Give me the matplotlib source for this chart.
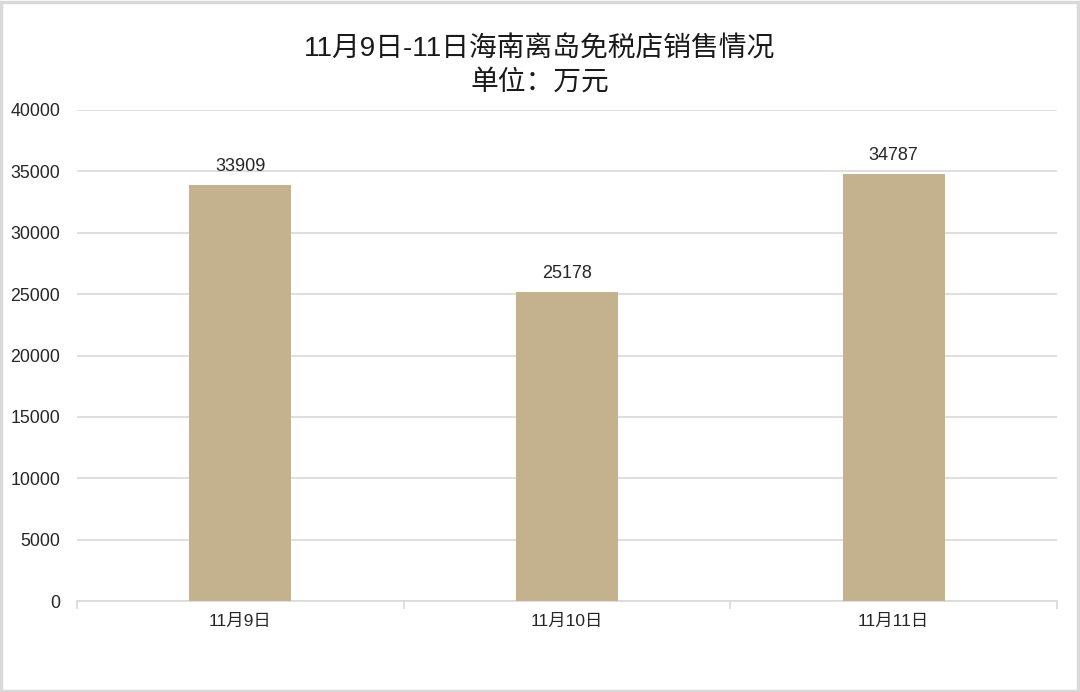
import matplotlib
matplotlib.use("Agg")
import matplotlib.pyplot as plt
from matplotlib.patches import Rectangle

categories = ["11月9日", "11月10日", "11月11日"]
values = [33909, 25178, 34787]
yticks = [0, 5000, 10000, 15000, 20000, 25000, 30000, 35000, 40000]
title = "11月9日-11日海南离岛免税店销售情况\n单位：万元"

plt.rcParams['font.family'] = ['Liberation Sans', 'Noto Sans CJK SC', 'DejaVu Sans']

fig = plt.figure(figsize=(10.8, 6.92), dpi=100)
ax = fig.add_axes([77/1080, 1-601/692, 980/1080, 491/692])

x = list(range(len(categories)))
bars = ax.bar(x, values, width=0.312, color="#C4B28E", zorder=3)
for xi, v in zip(x, values):
    ax.annotate(str(v), (xi, v), xytext=(0, 7), textcoords="offset points",
                ha="center", va="bottom", fontsize=13, color="#262626")

ax.set_xlim(-0.5, len(categories) - 0.5)
ax.set_ylim(0, 40000)
ax.set_yticks(yticks)
ax.set_yticklabels([str(t) for t in yticks], fontsize=12.8, color="#262626")
ax.yaxis.grid(True, color="#D9D9D9", linewidth=1.2, zorder=0)
ax.tick_params(axis="y", length=0, pad=12)

ax.set_xticks(x)
ax.set_xticklabels(categories, fontsize=12.5, color="#262626")
ax.tick_params(axis="x", length=0, pad=9)
ax.set_xticks([-0.5, 0.5, 1.5, 2.5], minor=True)
ax.tick_params(axis="x", which="minor", length=6, color="#D9D9D9", width=1.2)

for s in ["top", "right", "left"]:
    ax.spines[s].set_visible(False)
ax.spines["bottom"].set_color("#D9D9D9")
ax.spines["bottom"].set_linewidth(1.2)

fig.text(0.5, 1-66/692, title, ha="center", va="center", fontsize=20,
         color="#1a1a1a", linespacing=1.32)

fig.patches.append(Rectangle((0.001, 0.002), 0.997, 0.995, transform=fig.transFigure,
                             fill=False, edgecolor="#D9D9D9", linewidth=2.5))

fig.savefig("out.png", dpi=100)
